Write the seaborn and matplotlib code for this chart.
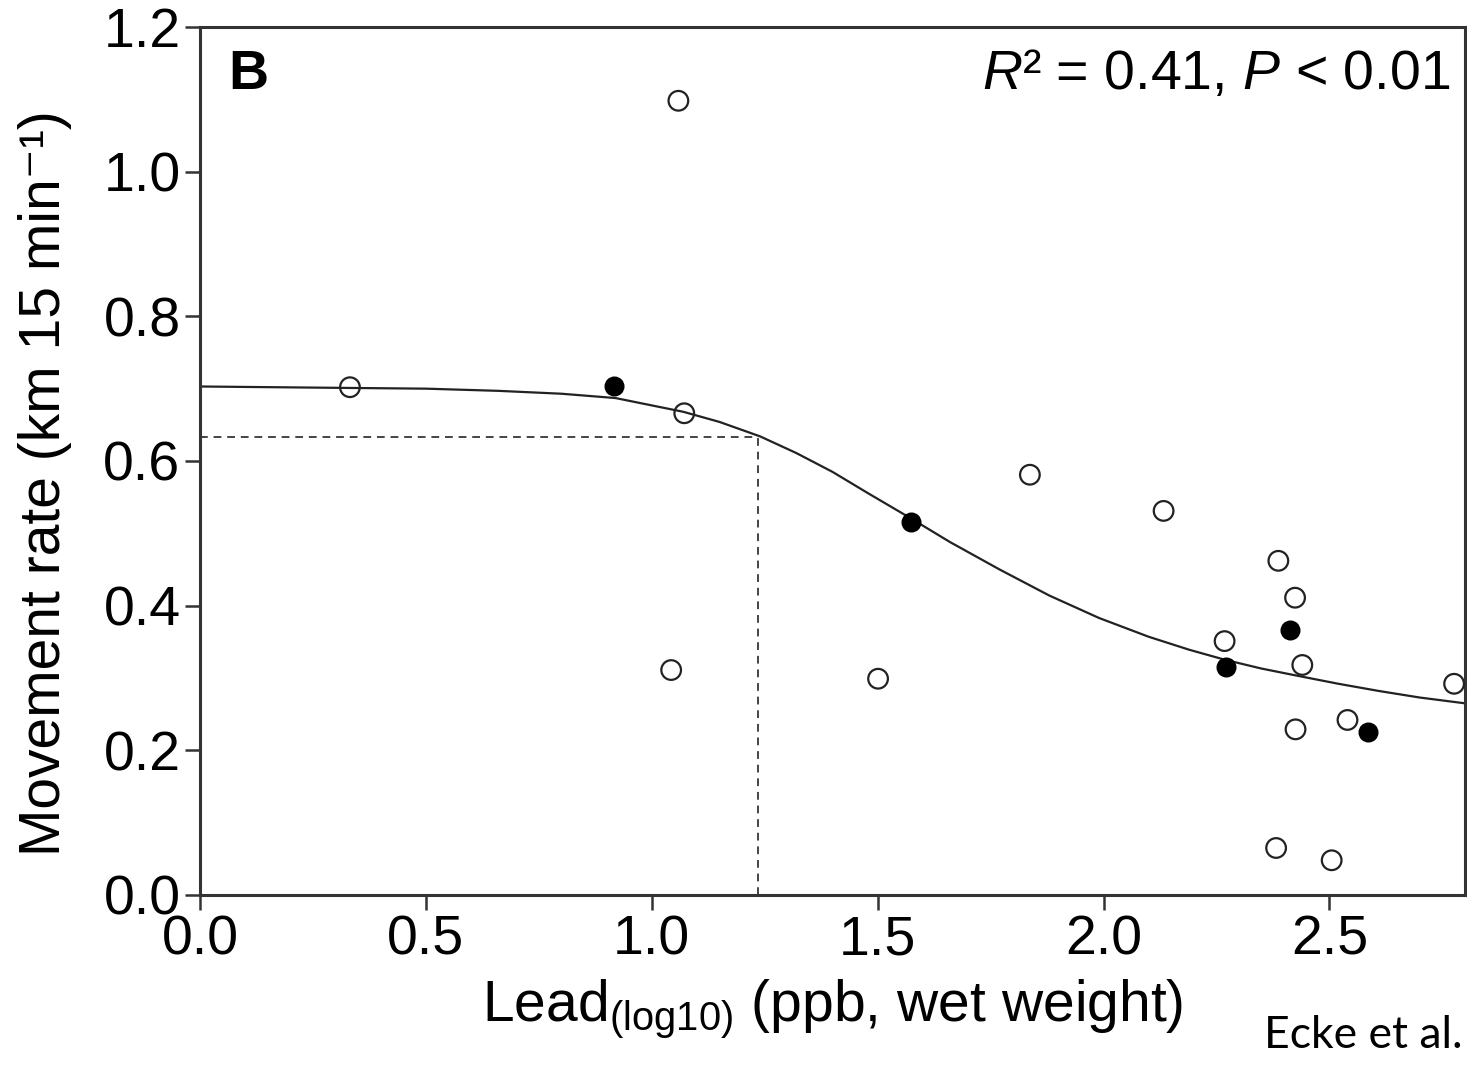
import numpy as np
import pandas as pd
import seaborn as sns
import matplotlib.pyplot as plt

# open circles
open_x = [0.332, 1.059, 1.072, 1.043, 1.501, 1.837, 2.133, 2.268, 2.387, 2.424,
          2.440, 2.425, 2.540, 2.382, 2.505, 2.776]
open_y = [0.702, 1.098, 0.666, 0.311, 0.299, 0.581, 0.531, 0.351, 0.462, 0.411,
          0.318, 0.229, 0.242, 0.065, 0.048, 0.292]
# filled circles
filled_x = [0.917, 1.573, 2.272, 2.412, 2.586]
filled_y = [0.704, 0.515, 0.315, 0.366, 0.225]
# fitted curve
curve_x = [0.0, 0.33, 0.50, 0.66, 0.80, 0.92, 1.07, 1.15, 1.24, 1.32, 1.40, 1.48,
           1.57, 1.66, 1.77, 1.88, 1.99, 2.10, 2.19, 2.27, 2.35, 2.43, 2.52,
           2.61, 2.70, 2.80]
curve_y = [0.703, 0.701, 0.700, 0.697, 0.693, 0.687, 0.668, 0.654, 0.634, 0.611,
           0.585, 0.555, 0.522, 0.488, 0.450, 0.414, 0.383, 0.357, 0.339, 0.325,
           0.313, 0.303, 0.292, 0.282, 0.273, 0.265]
# dashed guide to the curve
ref_x = 1.236
ref_y = 0.633

df_open = pd.DataFrame({"lead": open_x, "rate": open_y})
df_filled = pd.DataFrame({"lead": filled_x, "rate": filled_y})
df_curve = pd.DataFrame({"lead": curve_x, "rate": curve_y})

sns.set_theme(style="ticks")
plt.rcParams['font.family'] = ['Liberation Sans', 'DejaVu Sans']
plt.rcParams['text.color'] = 'black'
plt.rcParams['mathtext.fontset'] = 'custom'
plt.rcParams['mathtext.rm'] = 'Liberation Sans'
plt.rcParams['mathtext.it'] = 'Liberation Sans:italic'
plt.rcParams['mathtext.bf'] = 'Liberation Sans:bold'

fig = plt.figure(figsize=(14.67, 10.67), dpi=100)
ax = fig.add_axes([0.1363, 0.1612, 0.8623, 0.8135])

ax.plot([0, ref_x], [ref_y, ref_y], ls=(0, (4, 3)), color="#444444", lw=1.4)
ax.plot([ref_x, ref_x], [0, ref_y], ls=(0, (4, 3)), color="#444444", lw=1.4)

sns.lineplot(data=df_curve, x="lead", y="rate", sort=False, estimator=None,
             color="#222222", lw=1.6, ax=ax)
sns.scatterplot(data=df_open, x="lead", y="rate", s=200, facecolor="none",
                edgecolor="#222222", linewidth=1.6, ax=ax, clip_on=False, zorder=3)
sns.scatterplot(data=df_filled, x="lead", y="rate", s=180, color="black",
                edgecolor="black", linewidth=1, ax=ax, zorder=4)

ax.set_xlim(0, 2.8)
ax.set_ylim(0, 1.2)
ax.set_xticks([0.0, 0.5, 1.0, 1.5, 2.0, 2.5])
ax.set_yticks([0.0, 0.2, 0.4, 0.6, 0.8, 1.0, 1.2])
ax.xaxis.set_major_formatter(plt.FormatStrFormatter('%.1f'))
ax.yaxis.set_major_formatter(plt.FormatStrFormatter('%.1f'))

for sp in ax.spines.values():
    sp.set_visible(True)
    sp.set_color("#333333")
    sp.set_linewidth(2.2)
ax.tick_params(axis="both", direction="out", length=11, width=1.8, color="#333333",
               labelsize=40, labelcolor="black", pad=3)

ax.set_xlabel(r"Lead$_{\mathrm{(log10)}}$ (ppb, wet weight)", fontsize=41,
              color="black", labelpad=8)
ax.set_ylabel("Movement rate (km 15 min\u207b\u00b9)", fontsize=41, color="black")
ax.yaxis.set_label_coords(-0.101, 0.475)

ax.text(0.022, 0.975, "B", transform=ax.transAxes, fontsize=40, fontweight="bold",
        ha="left", va="top", color="black")
ax.text(0.988, 0.975, "$R$\u00b2 = 0.41, $P$ < 0.01", transform=ax.transAxes,
        fontsize=40, ha="right", va="top", color="black")

fig.text(0.997, 0.01, "Ecke et al.", family=["Lato", "DejaVu Sans"], fontsize=32,
         ha="right", va="bottom", color="black")

fig.savefig("out.png", dpi=100)
